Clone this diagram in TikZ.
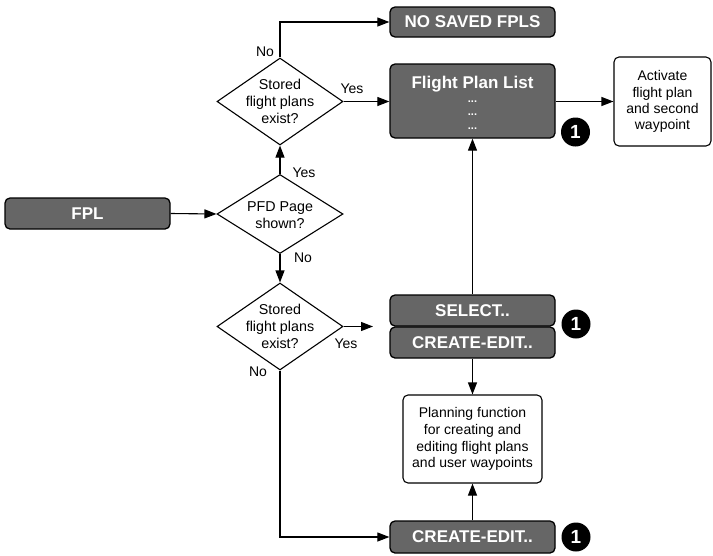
\documentclass[tikz,border=0pt]{standalone}
\usepackage{fontspec}
\setmainfont{Liberation Sans}
\usetikzlibrary{arrows.meta,shapes.geometric,positioning}
\definecolor{boxgray}{RGB}{102,102,102}
\begin{document}
\begin{tikzpicture}[x=1pt,y=-1pt,
  darkbox/.style={draw=black,line width=1.3pt,fill=boxgray,rounded corners=5pt,
    text=white,font=\fontsize{17}{20}\selectfont\bfseries,inner sep=0pt,minimum width=165pt},
  whitebox/.style={draw=black,line width=1.1pt,fill=white,rounded corners=5pt,
    align=center,font=\fontsize{14}{16.8}\selectfont,inner sep=0pt},
  decision/.style={draw=black,line width=1.1pt,diamond,inner sep=0pt,minimum width=126pt},
  dtext/.style={align=center,font=\fontsize{14.3}{16.8}\selectfont,inner sep=0pt},
  lbl/.style={font=\fontsize{14}{16}\selectfont,inner sep=0pt},
  badge/.style={circle,fill=black,text=white,font=\fontsize{19}{20}\selectfont\bfseries,
    inner sep=0pt,minimum size=29pt},
  conn/.style={line width=1.1pt,-{Triangle[length=12pt,width=9pt]}},
  dots/.style={text=white,font=\fontsize{11}{12}\selectfont\bfseries,inner sep=0pt,anchor=base}
]
\useasboundingbox (0,0) rectangle (713,555);

% dark boxes
\node[darkbox,minimum height=30pt] (nosaved) at (472.5,22) {NO SAVED FPLS};
\node[darkbox,minimum height=74pt] (fpllist) at (472.5,101) {};
\node[text=white,font=\fontsize{17}{20}\selectfont\bfseries,inner sep=0pt,anchor=base] (fpltitle) at (472.5,88) {Flight Plan List};
\node[dots] (dotsa) at (472.5,102) {...};
\node[dots] (dotsb) at (472.5,115.5) {...};
\node[dots] (dotsc) at (472.5,129) {...};
\node[darkbox,minimum height=31pt] (fpl) at (87.5,213.5) {FPL};
\node[darkbox,minimum height=31pt] (select) at (472.5,310.5) {SELECT..};
\node[darkbox,minimum height=31pt] (createa) at (472.5,342.5) {CREATE-EDIT..};
\node[darkbox,minimum height=32pt] (createb) at (472.5,537) {CREATE-EDIT..};

% white boxes
\node[whitebox,minimum width=97pt,minimum height=89pt,font=\fontsize{14}{16.2}\selectfont] (activate) at (662.5,101.5) {Activate\\flight plan\\and second\\waypoint};
\node[whitebox,minimum width=139pt,minimum height=88pt] (plan) at (472.5,439) {Planning function\\for creating and\\editing flight plans\\and user waypoints};

% decisions
\node[decision,minimum height=87pt] (da) at (280,101.5) {};
\node[dtext] (dat) at (280,101.5) {Stored\\flight plans\\exist?};
\node[decision,minimum height=79pt] (db) at (280,214) {};
\node[dtext] (dbt) at (280,215) {PFD Page\\shown?};
\node[decision,minimum height=87pt] (dc) at (280,326.5) {};
\node[dtext] (dct) at (280,326.5) {Stored\\flight plans\\exist?};

% badges
\node[badge] (ba) at (575.5,132) {1};
\node[badge] (bb) at (576,324) {1};
\node[badge] (bc) at (576,537) {1};

% labels
\node[lbl] (lno1) at (265,52) {No};
\node[lbl] (lyes1) at (352,89) {Yes};
\node[lbl] (lyes2) at (304,173) {Yes};
\node[lbl] (lno2) at (303,258) {No};
\node[lbl] (lyes3) at (346,344) {Yes};
\node[lbl] (lno3) at (258,372) {No};

\coordinate (dcend) at (373,326.5);

% connectors
\draw[conn] (fpl.east) -- (db.west);
\draw[conn] (db.north) -- (da.south);
\draw[conn] (db.south) -- (dc.north);
\draw[conn] (da.north) |- (nosaved.west);
\draw[conn] (da.east) -- (da.east -| fpllist.west);
\draw[conn] (fpllist.east |- activate.west) -- (activate.west);
\draw[conn] (dc.east) -- (dcend);
\draw[conn] (select.north) -- (fpllist.south);
\draw[conn] (createa.south) -- (plan.north);
\draw[conn] (createb.north) -- (plan.south);
\draw[conn] (dc.south) |- (createb.west);
\end{tikzpicture}
\end{document}
